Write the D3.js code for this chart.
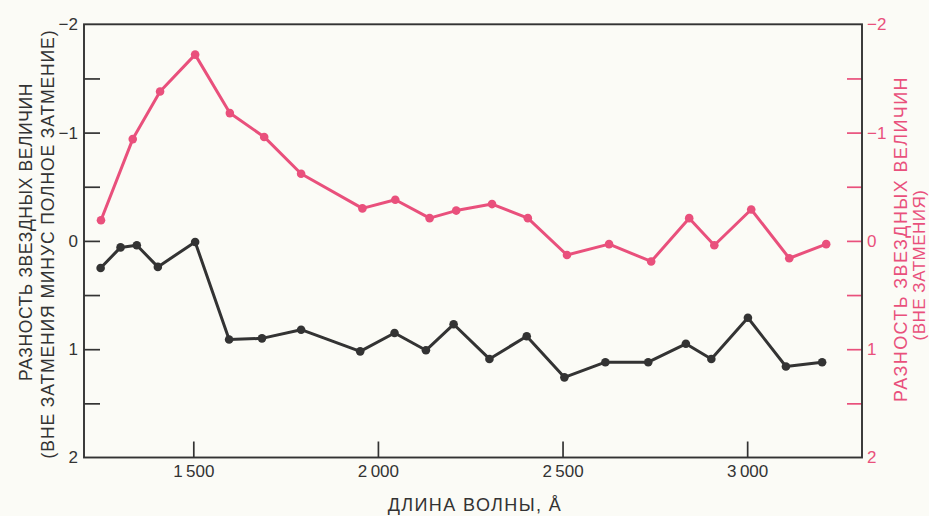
<!DOCTYPE html>
<html>
<head>
<meta charset="utf-8">
<script src="https://cdn.jsdelivr.net/npm/d3@7"></script>
<style>
  html, body { margin: 0; padding: 0; background: #fbfbf6; }
  svg { display: block; }
  text { font-family: "Liberation Sans", Arial, Helvetica, sans-serif; }
</style>
</head>
<body>
<svg id="chart" width="929" height="516"></svg>
<script>
// ---- data ----
const xTicks = [1500, 2000, 2500, 3000];
const yTicks = [-2, -1.5, -1, -0.5, 0, 0.5, 1, 1.5, 2];
const yTickLabels = [-2, -1, 0, 1, 2];

// black series: out-of-eclipse minus total eclipse (left axis)
const blackWavelength = [1249, 1303, 1347, 1404, 1505, 1597, 1686, 1792, 1952, 2045, 2130,
                         2205, 2302, 2403, 2505, 2616, 2732, 2834, 2903, 3002, 3105, 3203];
const blackDiff = [0.25, 0.06, 0.04, 0.24, 0.01, 0.91, 0.90, 0.82, 1.02, 0.85, 1.01,
                   0.77, 1.09, 0.88, 1.26, 1.12, 1.12, 0.95, 1.09, 0.71, 1.16, 1.12];

// pink series: out of eclipse (right axis)
const pinkWavelength = [1250, 1336, 1410, 1505, 1599, 1692, 1792, 1958, 2047, 2140, 2212,
                        2309, 2406, 2512, 2626, 2740, 2843, 2911, 3011, 3114, 3214];
const pinkDiff = [-0.19, -0.94, -1.38, -1.72, -1.18, -0.96, -0.62, -0.30, -0.38, -0.21, -0.28,
                  -0.34, -0.21, 0.13, 0.03, 0.19, -0.21, 0.04, -0.29, 0.16, 0.03];

const xDomain = [1204, 3311];
const yDomain = [-2, 2];

// ---- styles ----
const DARK = "#333333";
const PINK = "#e9507c";

const svg = d3.select("#chart");
const W = 929, H = 516;
const m = { left: 84, right: 67, top: 24.3, bottom: 58.5 };

const x = d3.scaleLinear().domain(xDomain).range([m.left, W - m.right]);
const y = d3.scaleLinear().domain(yDomain).range([m.top, H - m.bottom]);

svg.append("rect").attr("width", W).attr("height", H).attr("fill", "#fbfbf6");

const minus = v => (v < 0 ? "\u2212" + Math.abs(v) : String(v));
const thousands = v => String(v).replace(/\B(?=(\d{3})+$)/, "\u2009");

// left axis
const gL = svg.append("g").attr("transform", `translate(${m.left},0)`)
  .call(d3.axisLeft(y).tickValues(yTicks).tickSize(-16).tickPadding(6)
    .tickFormat(v => yTickLabels.includes(v) ? minus(v) : ""));
gL.select(".domain").remove();
gL.selectAll(".tick line").attr("stroke", DARK).attr("stroke-width", 1.7)
  .filter(d => d === -2 || d === 2).remove();
gL.selectAll(".tick text").attr("fill", DARK).style("font-size", "17px");

// right axis
const gR = svg.append("g").attr("transform", `translate(${W - m.right},0)`)
  .call(d3.axisRight(y).tickValues(yTicks).tickSize(-15).tickPadding(5)
    .tickFormat(v => yTickLabels.includes(v) ? minus(v) : ""));
gR.select(".domain").remove();
gR.selectAll(".tick line").attr("stroke", PINK).attr("stroke-width", 1.7)
  .filter(d => d === -2 || d === 2).remove();
gR.selectAll(".tick text").attr("fill", PINK).style("font-size", "17px");

// bottom axis
const gB = svg.append("g").attr("transform", `translate(0,${H - m.bottom})`)
  .call(d3.axisBottom(x).tickValues(xTicks).tickSize(-16).tickPadding(7).tickFormat(thousands));
gB.select(".domain").remove();
gB.selectAll(".tick line").attr("stroke", DARK).attr("stroke-width", 1.7);
gB.selectAll(".tick text").attr("fill", DARK).style("font-size", "17px");

// frame
svg.append("rect")
  .attr("x", x.range()[0]).attr("y", y.range()[0])
  .attr("width", x.range()[1] - x.range()[0])
  .attr("height", y.range()[1] - y.range()[0])
  .attr("fill", "none").attr("stroke", DARK).attr("stroke-width", 1.9);

// series
function drawSeries(xs, ys, color) {
  const pts = xs.map((d, i) => [d, ys[i]]);
  svg.append("path").datum(pts)
    .attr("fill", "none").attr("stroke", color).attr("stroke-width", 3)
    .attr("stroke-linejoin", "round")
    .attr("d", d3.line().x(d => x(d[0])).y(d => y(d[1])));
  svg.append("g").selectAll("circle").data(pts).join("circle")
    .attr("cx", d => x(d[0])).attr("cy", d => y(d[1])).attr("r", 4.3)
    .attr("fill", color);
}
drawSeries(pinkWavelength, pinkDiff, PINK);
drawSeries(blackWavelength, blackDiff, DARK);

// axis titles
svg.append("text").attr("x", 475).attr("y", 511).attr("text-anchor", "middle")
  .attr("fill", DARK).style("font-size", "18px").style("letter-spacing", "1.4px")
  .text("ДЛИНА ВОЛНЫ, Å");

svg.append("text").attr("transform", "translate(32,232) rotate(-90)")
  .attr("text-anchor", "middle").attr("fill", DARK).style("font-size", "17.5px")
  .style("letter-spacing", "0.6px")
  .text("РАЗНОСТЬ ЗВЕЗДНЫХ ВЕЛИЧИН");
svg.append("text").attr("transform", "translate(54,244) rotate(-90)")
  .attr("text-anchor", "middle").attr("fill", DARK).style("font-size", "17.5px")
  .style("letter-spacing", "0.9px")
  .text("(ВНЕ ЗАТМЕНИЯ МИНУС ПОЛНОЕ ЗАТМЕНИЕ)");

svg.append("text").attr("transform", "translate(907,239) rotate(-90)")
  .attr("text-anchor", "middle").attr("fill", PINK).style("font-size", "18px")
  .style("letter-spacing", "1.4px")
  .text("РАЗНОСТЬ ЗВЕЗДНЫХ ВЕЛИЧИН");
svg.append("text").attr("transform", "translate(925,265) rotate(-90)")
  .attr("text-anchor", "middle").attr("fill", PINK).style("font-size", "17px")
  .style("letter-spacing", "0.5px")
  .text("(ВНЕ ЗАТМЕНИЯ)");
</script>
</body>
</html>
